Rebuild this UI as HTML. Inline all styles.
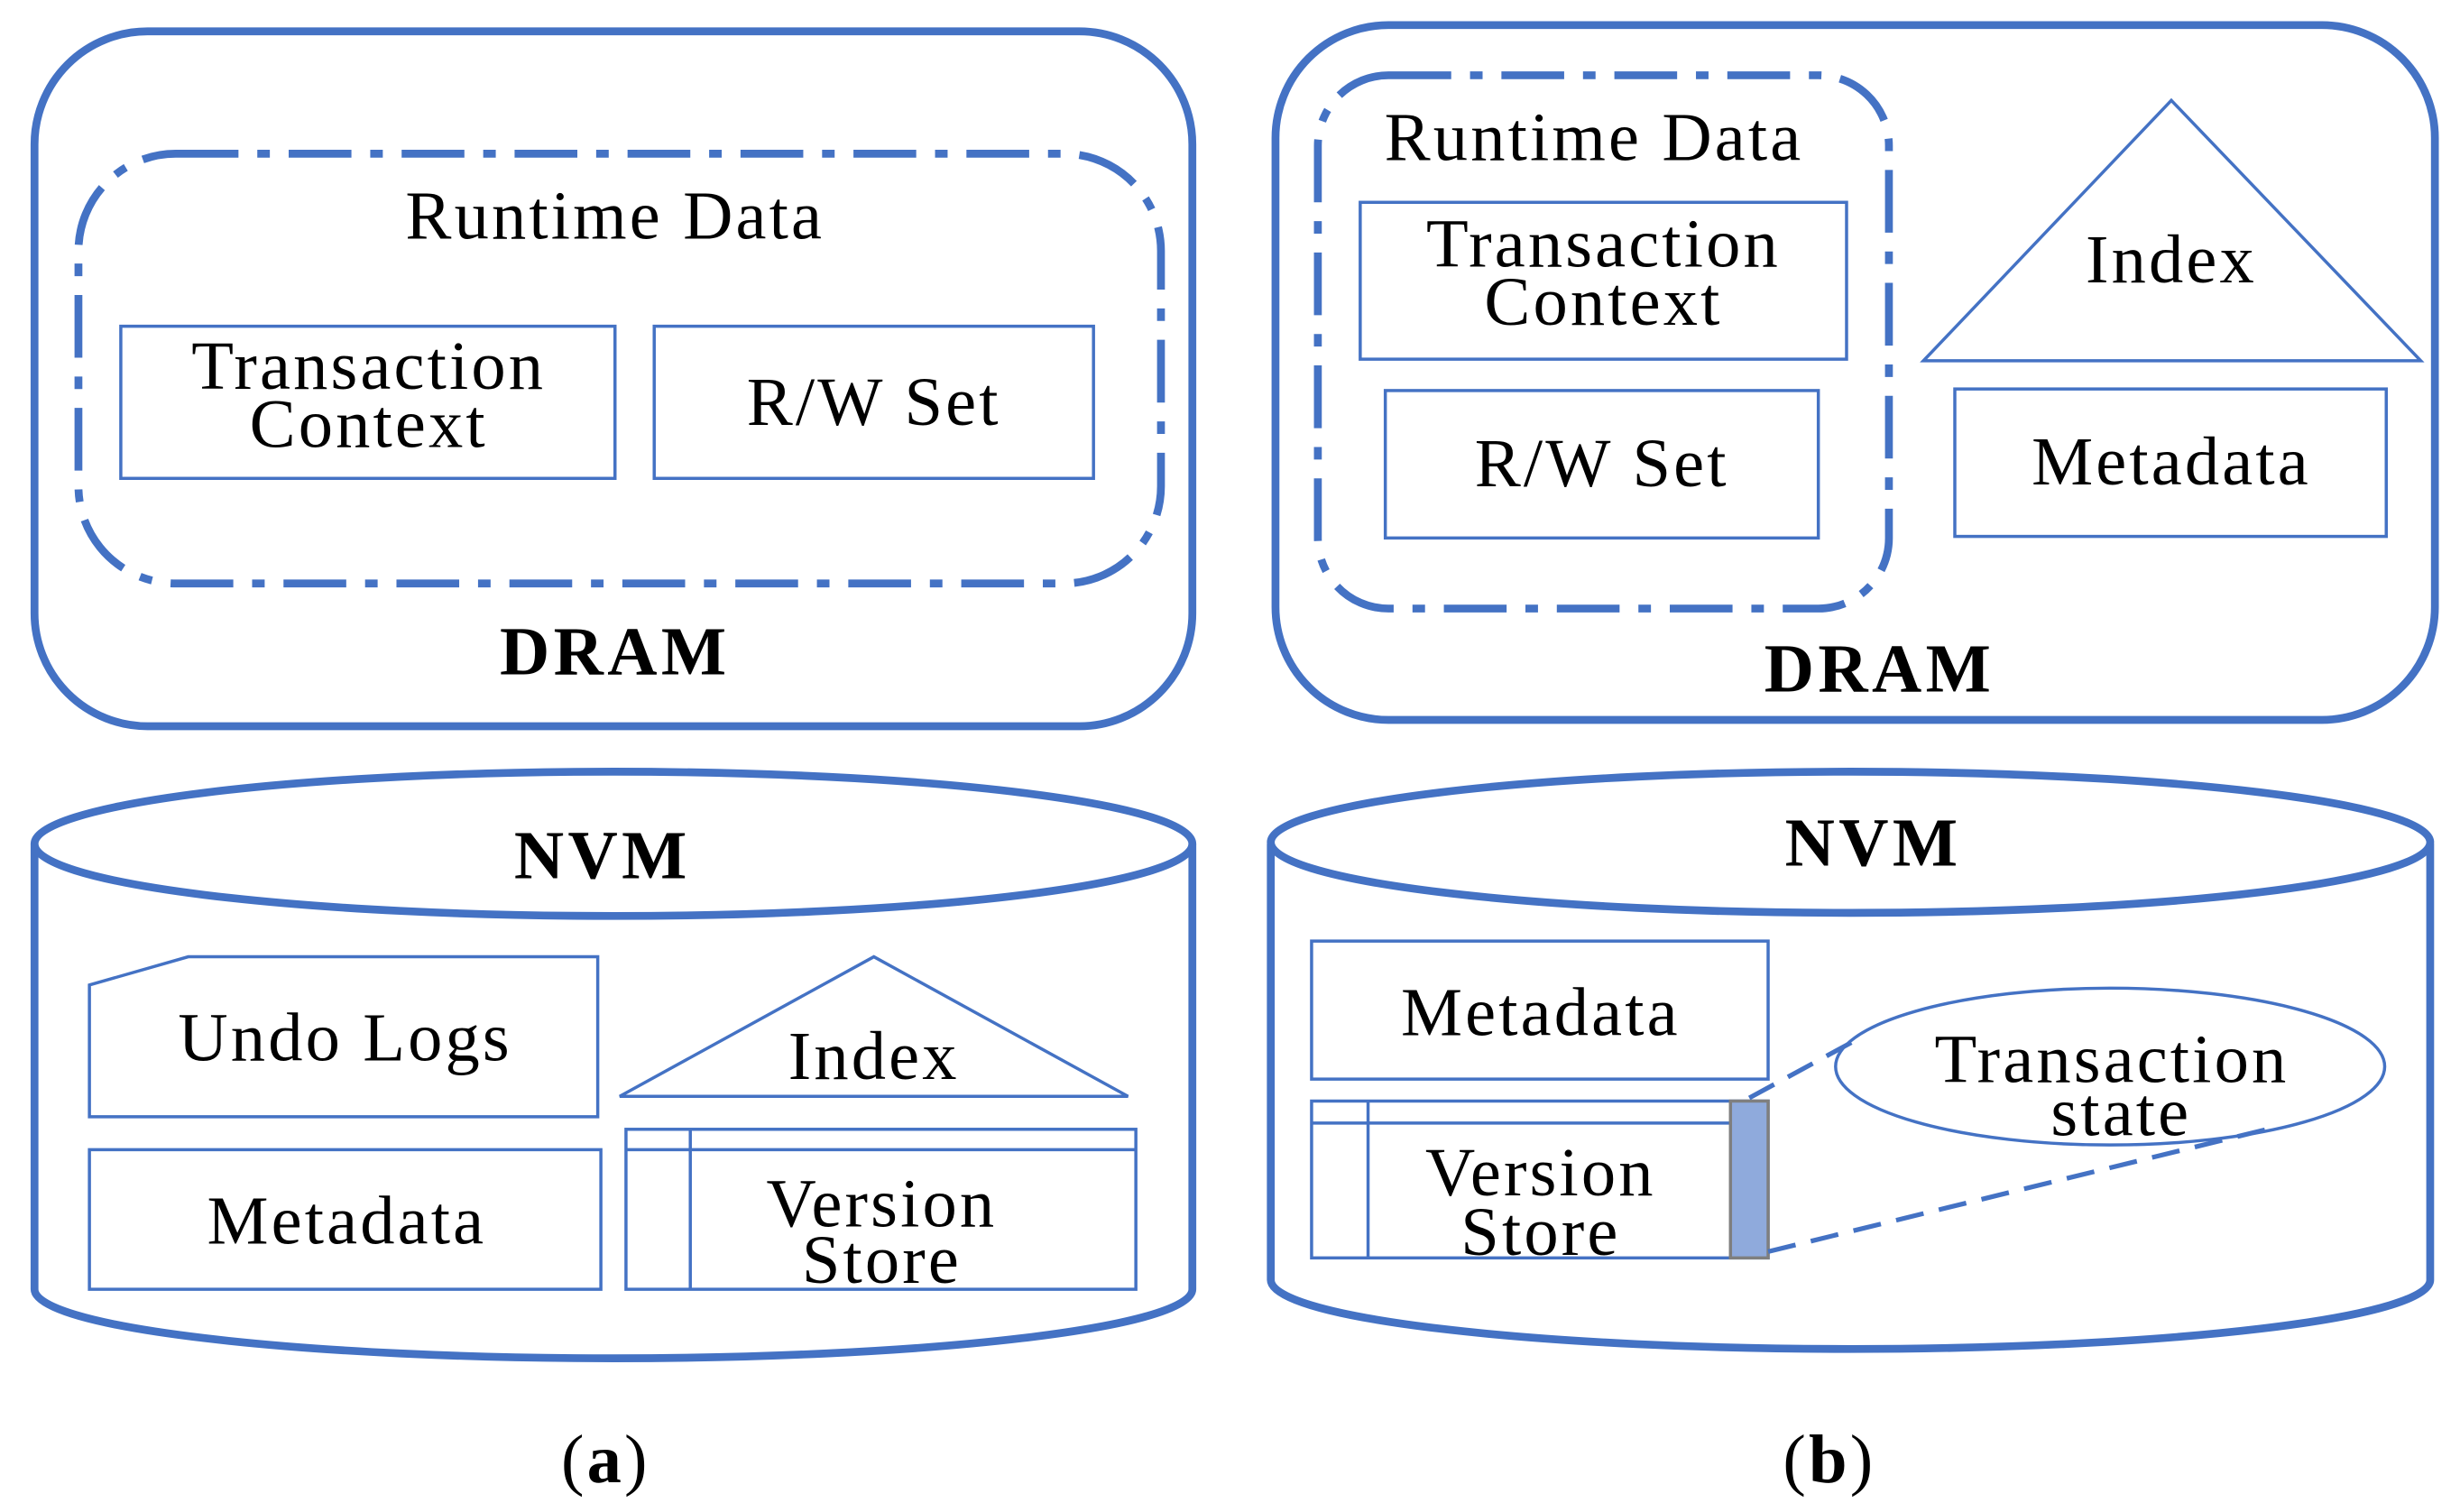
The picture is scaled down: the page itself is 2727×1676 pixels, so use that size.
<!DOCTYPE html>
<html><head><meta charset="utf-8"><style>
html,body{margin:0;padding:0;background:#fff;}
svg{display:block;}
text{font-family:"Liberation Serif",serif;fill:#000;text-anchor:middle;}
</style></head><body>
<svg width="2727" height="1676" viewBox="0 0 1568 964" preserveAspectRatio="none" xmlns="http://www.w3.org/2000/svg">
<g fill="none" stroke="#4472C4">
<rect x="22" y="20" width="738" height="443" rx="72" stroke-width="5"/>
<rect x="50" y="98" width="690" height="274" rx="62" stroke-width="5" stroke-dasharray="40,12,8,12"/>
<rect x="77" y="208" width="315" height="97" stroke-width="2"/>
<rect x="417" y="208" width="280" height="97" stroke-width="2"/>
<path d="M22,538 L22,822 A369,44 0 0 0 760,822 L760,538" stroke-width="5"/>
<ellipse cx="391" cy="538" rx="369" ry="46" stroke-width="5"/>
<polygon points="57,628 120,610 381,610 381,712 57,712" stroke-width="2"/>
<polygon points="395,699 557,610 719,699" stroke-width="2"/>
<rect x="57" y="733" width="326" height="89" stroke-width="2"/>
<rect x="399" y="720" width="325" height="102" stroke-width="2"/>
<line x1="399" y1="733" x2="724" y2="733" stroke-width="2"/>
<line x1="440" y1="720" x2="440" y2="822" stroke-width="2"/>
<rect x="813" y="16" width="739" height="443" rx="72" stroke-width="5"/>
<rect x="840" y="48" width="364" height="340" rx="45" stroke-width="5" stroke-dasharray="40,12,8,12"/>
<rect x="867" y="129" width="310" height="100" stroke-width="2"/>
<rect x="883" y="249" width="276" height="94" stroke-width="2"/>
<polygon points="1226,230 1384,64 1543,230" stroke-width="2"/>
<rect x="1246" y="248" width="275" height="94" stroke-width="2"/>
<path d="M810,538 L810,816 A369,44 0 0 0 1549,816 L1549,538" stroke-width="5"/>
<ellipse cx="1179.5" cy="537" rx="369.5" ry="45" stroke-width="5"/>
<rect x="836" y="600" width="291" height="88" stroke-width="2"/>
<rect x="836" y="702" width="291" height="100" stroke-width="2"/>
<line x1="836" y1="716" x2="1127" y2="716" stroke-width="2"/>
<line x1="872" y1="702" x2="872" y2="802" stroke-width="2"/>
<rect x="1103" y="702" width="24" height="100" fill="#8FAADC" stroke="#7f7f7f" stroke-width="2"/>
<ellipse cx="1345" cy="680" rx="175" ry="50" stroke-width="2"/>
<line x1="1115" y1="700" x2="1185" y2="662" stroke-width="3" stroke-dasharray="18,10"/>
<line x1="1127" y1="798" x2="1445" y2="720" stroke-width="3" stroke-dasharray="18,10"/>
</g>
<g font-size="44" letter-spacing="1.8">
<text x="392" y="152">Runtime Data</text>
<text x="235" y="248">Transaction</text>
<text x="235" y="285">Context</text>
<text x="557" y="271">R/W Set</text>
<text x="392" y="430" font-weight="bold" letter-spacing="2.5">DRAM</text>
<text x="384" y="560" font-weight="bold" letter-spacing="2.5">NVM</text>
<text x="220" y="676">Undo Logs</text>
<text x="557" y="688">Index</text>
<text x="221" y="793">Metadata</text>
<text x="562" y="782">Version</text>
<text x="562" y="818">Store</text>
<text x="1016" y="102">Runtime Data</text>
<text x="1022" y="170">Transaction</text>
<text x="1022" y="207">Context</text>
<text x="1021" y="310">R/W Set</text>
<text x="1384" y="180">Index</text>
<text x="1384" y="309">Metadata</text>
<text x="1198" y="441" font-weight="bold" letter-spacing="2.5">DRAM</text>
<text x="1194" y="552" font-weight="bold" letter-spacing="2.5">NVM</text>
<text x="982" y="660">Metadata</text>
<text x="982" y="762">Version</text>
<text x="982" y="800">Store</text>
<text x="1346" y="690">Transaction</text>
<text x="1352" y="724">state</text>
<text x="386" y="945">(<tspan font-weight="bold">a</tspan>)</text>
<text x="1166" y="945">(<tspan font-weight="bold">b</tspan>)</text>
</g>
</svg>
</body></html>
